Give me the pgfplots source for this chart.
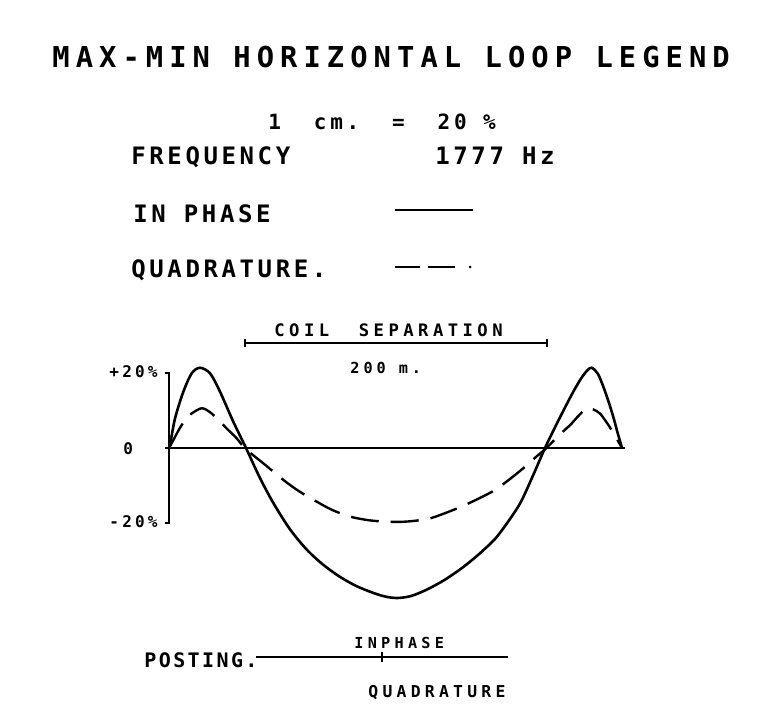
\documentclass[border=0pt]{standalone}
\usepackage{fontspec}
\setmainfont{DejaVu Sans Mono}
\usepackage{pgfplots}
\pgfplotsset{compat=1.18}
\tikzset{lab/.style n args={2}{font=\fontsize{#1}{#1}\selectfont\bfseries\addfontfeature{LetterSpace=#2}, inner sep=0pt, anchor=base west}}
\begin{document}
\begin{tikzpicture}
\begin{scope}[x=0.5pt,y=-0.5pt]
\path (0,0) rectangle (761,706);
% title
\node[lab={14.4}{21}] at (52,68) {MAX-MIN HORIZONTAL LOOP LEGEND};
\node[lab={10.5}{18}] at (268,130) {1~~cm.~~=~~20~\%};
\node[lab={12}{15}] at (131,165) {FREQUENCY};
\node[lab={12}{15}] at (435,164) {1777~Hz};
\node[lab={12}{15}] at (133,222) {IN~PHASE};
\node[lab={12}{15}] at (131,278) {QUADRATURE.};
\draw[line width=0.9pt] (395,210) -- (473,210);
\draw[line width=0.9pt] (395,267) -- (420,267) (428,267) -- (455,267);
\fill (470,267) circle (1.5);
\node[lab={8.6}{26}] at (274,336) {COIL~~SEPARATION};
\draw[line width=0.8pt] (245,343) -- (547,343) (245,339) -- (245,347) (547,339) -- (547,347);
\node[lab={7.6}{26}] at (350,373) {200~m.};
% axis labels
\node[lab={8}{20}, anchor=base east] at (158,377) {+20\%};
\node[lab={8}{20}] at (123,454) {0};
\node[lab={8}{20}, anchor=base east] at (158,527) {-20\%};
% posting
\node[lab={10}{12}] at (144,667) {POSTING.};
\draw[line width=0.8pt] (256,657) -- (508,657) (382,652) -- (382,662);
\node[lab={7.6}{28}] at (354,648) {INPHASE};
\node[lab={8.2}{26}] at (368,697) {QUADRATURE};
\end{scope}
\begin{axis}[at={(84.5pt,-308.375pt)}, anchor=south west, scale only axis,
  width=226.5pt, height=131.25pt, xmin=0, xmax=300, ymin=-45, ymax=25,
  hide axis, clip=false]
\addplot[black, line width=1.3pt] coordinates {(-2.6,0) (302,0)};
\addplot[black, line width=1pt] coordinates {(-2.6,20) (0,20) (0,-20) (-2.6,-20)};
\addplot[black, line width=1.3pt, smooth, tension=0.5] coordinates {
(0,0) (0.7,0.8) (4,7.9) (9.5,15) (15,19.9) (20.5,21.4) (27.2,19.9) (33.8,15) (42.6,7)
(51,0) (60,-7.8) (69,-14.6) (80,-21.6) (91,-27) (102,-31.1) (113,-34.3)
(124,-36.8) (135,-38.6) (143,-39.6) (151,-40) (160,-39.5) (170,-37.9) (182,-35.3)
(194,-32) (205,-28.4) (216,-24.2) (225,-19.4) (233,-14.4) (241,-7.4) (249,0)
(255,5) (262,10.6) (268,15.2) (273,18.6) (277,20.7) (280,21.4) (284,19.8) (287.5,16.5)
(291,12.5) (294.3,8.2) (297,4.2) (300,0)};
\addplot[black, line width=1.2pt, smooth, tension=0.5, dash pattern=on 14pt off 6pt] coordinates {
(0,0) (3,2.2) (7,5.2) (11,7.6) (15,9.2) (21.6,10.6) (27,9.6) (32.7,7.5) (38.5,5.1) (44.8,2.6)
(50,0) (56,-2) (62.5,-4.1) (75.7,-8.5) (86,-11.5) (97.8,-14.3) (108,-16.5) (119.9,-18.3)
(133,-19.3) (146.4,-19.7) (158,-19.6) (171.5,-18.9) (182,-17.5) (193.8,-15.6) (205,-13.5)
(215.9,-11.2) (226,-8.2) (235.8,-5) (243,-2.4) (250,0) (258,3.3) (265.6,6.1) (271,8.5)
(276.6,10.6) (281,10.3) (285.4,9.2) (289,7.3) (293.1,4.8) (300,0)};
\end{axis}
\end{tikzpicture}
\end{document}
